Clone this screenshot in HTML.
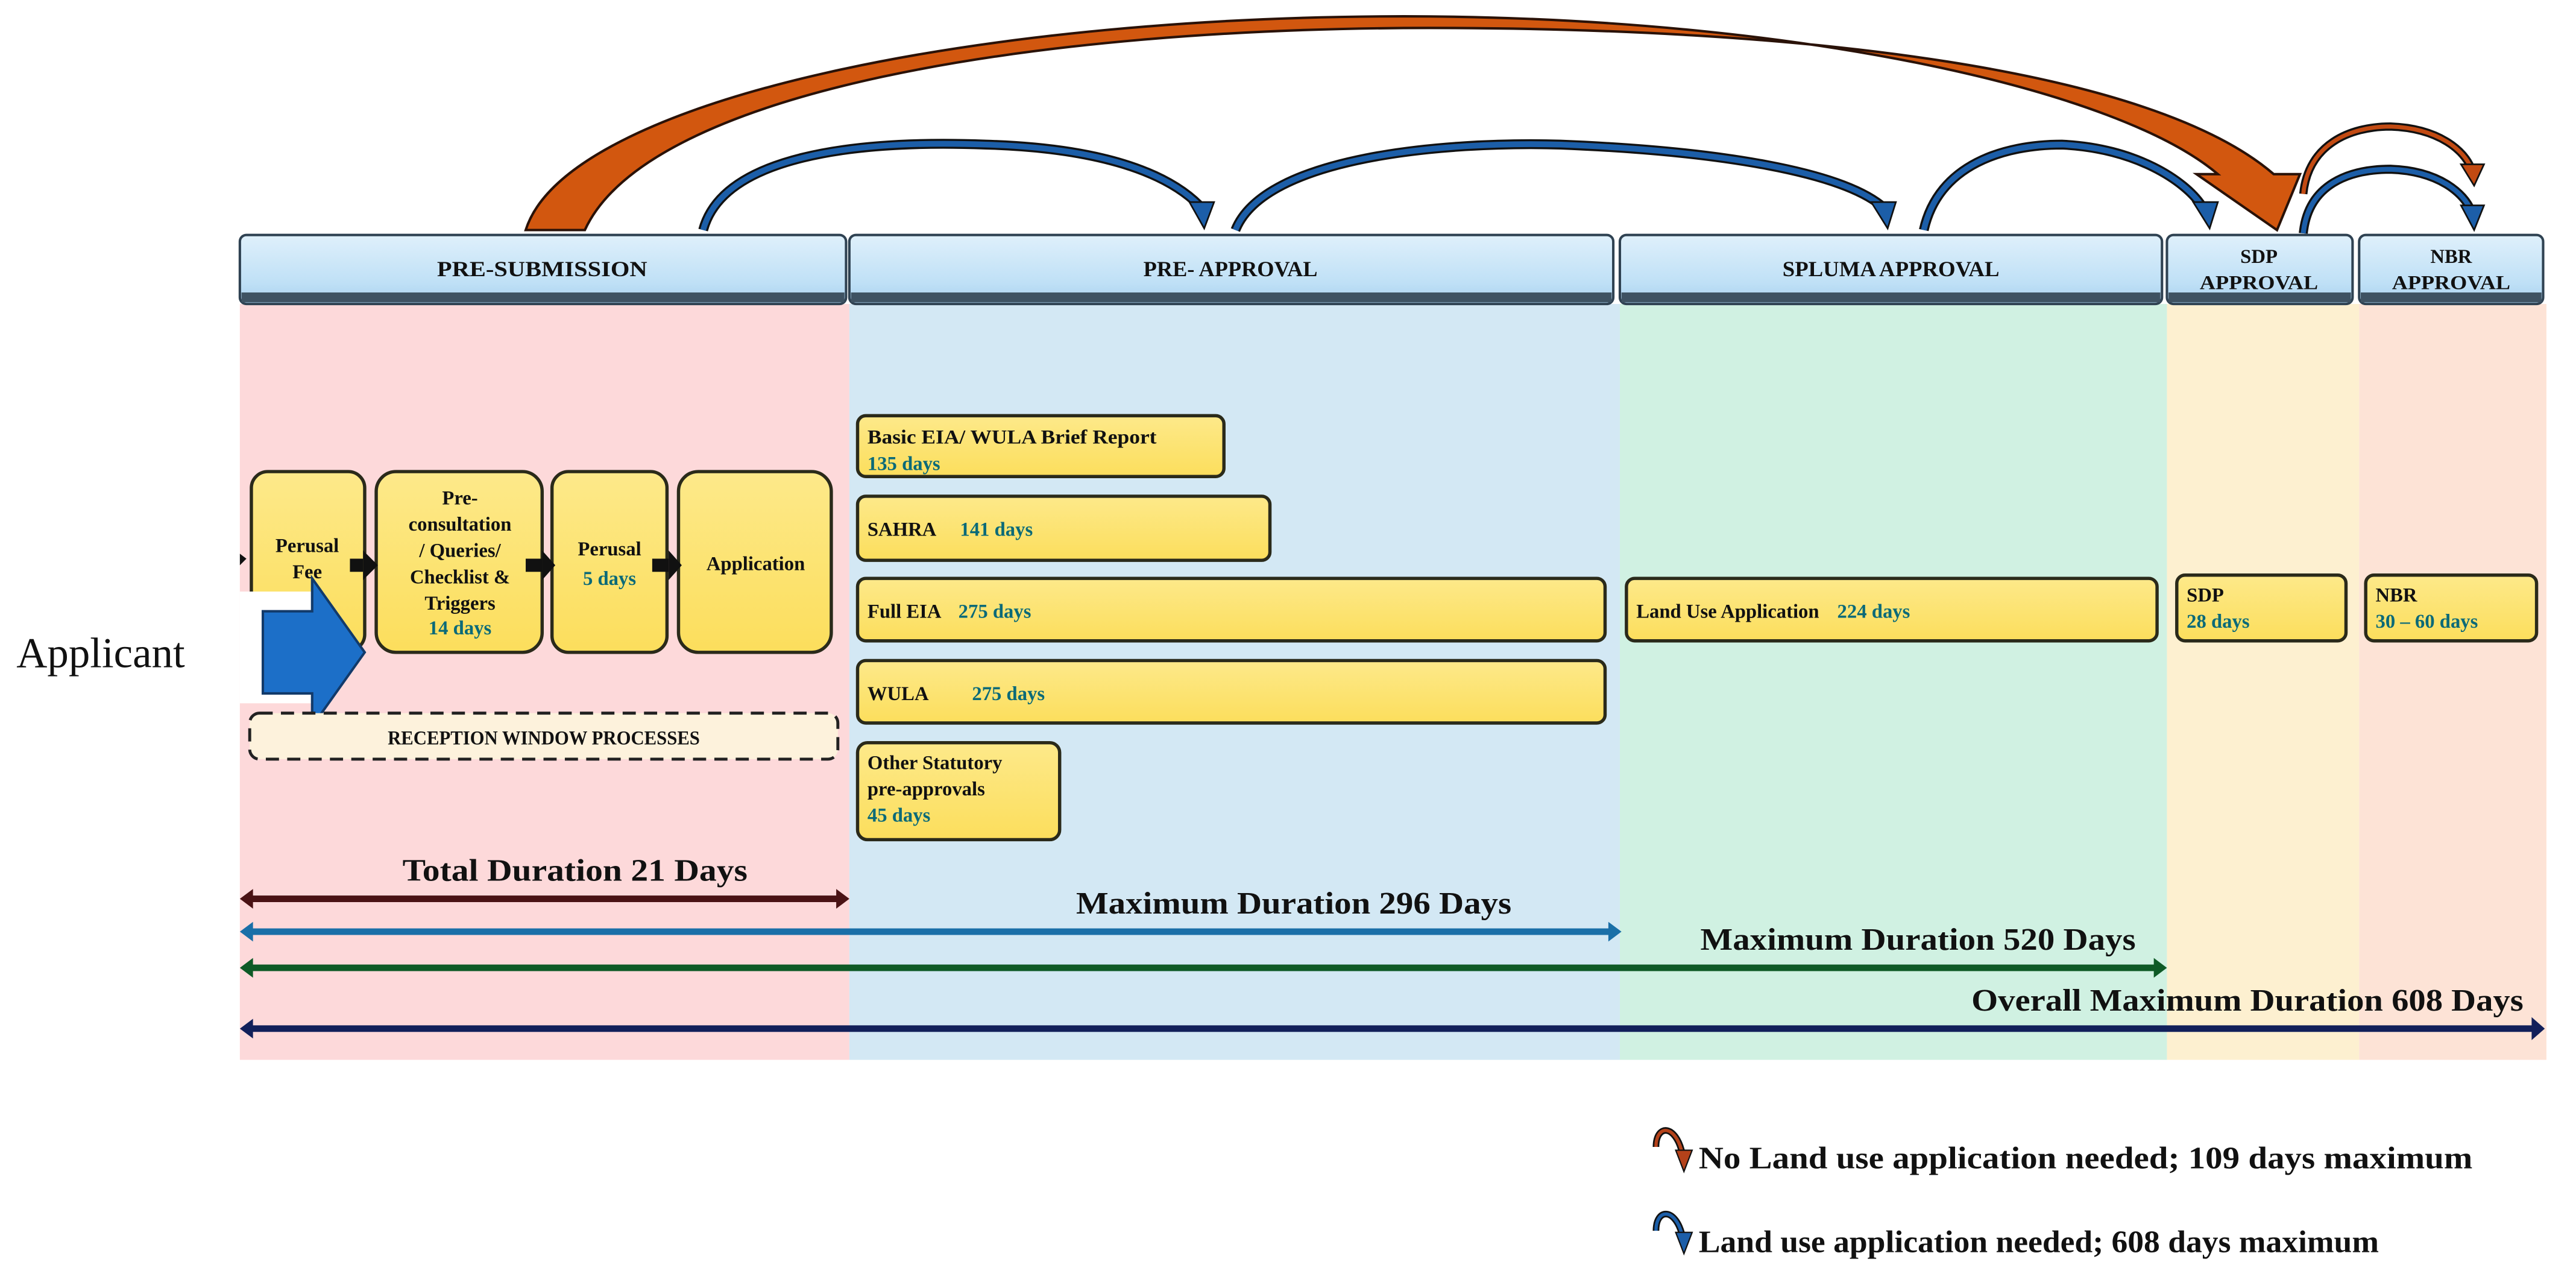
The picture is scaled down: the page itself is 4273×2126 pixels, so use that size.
<!DOCTYPE html>
<html><head><meta charset="utf-8"><style>
html,body{margin:0;padding:0;background:#fff;}
svg{display:block;}
text{font-family:"Liberation Serif",serif;font-weight:bold;}
</style></head><body>
<svg width="4273" height="2126" viewBox="0 0 1568 780.2" preserveAspectRatio="none" xmlns="http://www.w3.org/2000/svg">
<defs>
<linearGradient id="hdr" x1="0" y1="0" x2="0" y2="1">
<stop offset="0" stop-color="#dff0fb"/><stop offset="0.7" stop-color="#bfe0f6"/><stop offset="1" stop-color="#a9d1ee"/></linearGradient>
<linearGradient id="yb" x1="0" y1="0" x2="0" y2="1">
<stop offset="0" stop-color="#fde98a"/><stop offset="1" stop-color="#fcde5c"/></linearGradient>
</defs>
<rect x="146" y="185" width="371" height="460" fill="#fdd9da"/>
<rect x="517" y="185" width="469" height="460" fill="#d3e8f4"/>
<rect x="986" y="185" width="333" height="460" fill="#d0f1e2"/>
<rect x="1319" y="185" width="117" height="460" fill="#fdf0d0"/>
<rect x="1436" y="185" width="114" height="460" fill="#fde3d6"/>

<g stroke="#2f4252" stroke-width="1.5">
<rect x="146" y="143" width="369" height="42" rx="4" fill="url(#hdr)"/>
<rect x="517" y="143" width="465" height="42" rx="4" fill="url(#hdr)"/>
<rect x="986" y="143" width="330" height="42" rx="4" fill="url(#hdr)"/>
<rect x="1319" y="143" width="113" height="42" rx="4" fill="url(#hdr)"/>
<rect x="1436" y="143" width="112" height="42" rx="4" fill="url(#hdr)"/>
</g>
<g fill="#3e5262">
<rect x="147" y="178" width="367" height="6"/>
<rect x="518" y="178" width="463" height="6"/>
<rect x="987" y="178" width="328" height="6"/>
<rect x="1320" y="178" width="111" height="6"/>
<rect x="1437" y="178" width="110" height="6"/>
</g>
<g font-size="13" fill="#111" text-anchor="middle">
<text x="330" y="168" textLength="128" lengthAdjust="spacingAndGlyphs">PRE-SUBMISSION</text>
<text x="749" y="168" textLength="106" lengthAdjust="spacingAndGlyphs">PRE- APPROVAL</text>
<text x="1151" y="168" textLength="132" lengthAdjust="spacingAndGlyphs">SPLUMA APPROVAL</text>
<text x="1375" y="160" font-size="12">SDP</text><text x="1375" y="176" font-size="12" textLength="72" lengthAdjust="spacingAndGlyphs">APPROVAL</text>
<text x="1492" y="160" font-size="12">NBR</text><text x="1492" y="176" font-size="12" textLength="72" lengthAdjust="spacingAndGlyphs">APPROVAL</text>
</g>

<path d="M320,140 C345,60 600,8 870,10 C1100,12 1290,55 1350,106 L1337,106 L1386,140 L1400,106 L1384,106 C1310,42 1100,17 870,17 C630,17 395,55 356,140 Z" fill="#d2570f" stroke="#2a1208" stroke-width="1.5"/>

<g fill="none" stroke-linecap="butt">
<path d="M428,140 C440,95 520,85 600,88 C670,90 710,105 730,125" stroke="#111" stroke-width="6"/>
<path d="M428,140 C440,95 520,85 600,88 C670,90 710,105 730,125" stroke="#1c5ea8" stroke-width="3.5"/>
<path d="M752,140 C770,95 880,86 950,88 C1050,92 1120,105 1145,125" stroke="#111" stroke-width="6"/>
<path d="M752,140 C770,95 880,86 950,88 C1050,92 1120,105 1145,125" stroke="#1c5ea8" stroke-width="3.5"/>
<path d="M1171,140 C1180,100 1220,88 1255,88 C1300,90 1330,110 1340,125" stroke="#111" stroke-width="6"/>
<path d="M1171,140 C1180,100 1220,88 1255,88 C1300,90 1330,110 1340,125" stroke="#1c5ea8" stroke-width="3.5"/>
<path d="M1402,142 C1405,112 1430,103 1455,103 C1485,104 1500,118 1504,128" stroke="#111" stroke-width="5.5"/>
<path d="M1402,142 C1405,112 1430,103 1455,103 C1485,104 1500,118 1504,128" stroke="#1c5ea8" stroke-width="3"/>
<path d="M1402,118 C1405,88 1430,77 1455,77 C1485,78 1500,92 1504,102" stroke="#111" stroke-width="5"/>
<path d="M1402,118 C1405,88 1430,77 1455,77 C1485,78 1500,92 1504,102" stroke="#c24a12" stroke-width="2.5"/>
</g>
<g stroke="#111" stroke-width="1">
<polygon points="724,123 739,123 733,139" fill="#1c5ea8"/>
<polygon points="1139,123 1154,123 1149,139" fill="#1c5ea8"/>
<polygon points="1335,123 1350,123 1345,139" fill="#1c5ea8"/>
<polygon points="1498,125 1512,125 1506,140" fill="#1c5ea8"/>
<polygon points="1498,100 1512,100 1506,113" fill="#c24a12"/>
</g>

<g fill="url(#yb)" stroke="#2a2a1a" stroke-width="2">
<rect x="153" y="287" width="69" height="109" rx="10"/>
<rect x="229" y="287" width="101" height="110" rx="12"/>
<rect x="336" y="287" width="70" height="110" rx="10"/>
<rect x="413" y="287" width="93" height="110" rx="12"/>
</g>
<g fill="#111">
<rect x="213" y="340" width="8" height="8"/><polygon points="221,335 230,344 221,353"/>
<rect x="320" y="340" width="10" height="8"/><polygon points="330,335 338,344 330,353"/>
<rect x="397" y="340" width="10" height="8"/><polygon points="407,335 415,344 407,353"/>
</g>
<g font-size="12" fill="#111" text-anchor="middle">
<text x="187" y="336">Perusal</text>
<text x="187" y="352">Fee</text>
<text x="280" y="307">Pre-</text>
<text x="280" y="323">consultation</text>
<text x="280" y="339">/ Queries/</text>
<text x="280" y="355">Checklist &amp;</text>
<text x="280" y="371">Triggers</text>
<text x="280" y="386" fill="#0b6a78">14 days</text>
<text x="371" y="338">Perusal</text>
<text x="371" y="356" fill="#0b6a78">5 days</text>
<text x="460" y="347">Application</text>
</g>

<rect x="146" y="360" width="44" height="68" fill="#fff"/>
<polygon points="160,372 190,372 190,352 222,397 190,442 190,422 160,422" fill="#1c6fc8" stroke="#123a6a" stroke-width="1.5"/>
<text x="10" y="406" font-size="26" fill="#111" style="font-weight:normal">Applicant</text>
<polygon points="146,337 150,340 146,344" fill="#111"/>

<rect x="152" y="434" width="358" height="28" rx="6" fill="#fdf2dc" stroke="#222" stroke-width="1.8" stroke-dasharray="8,5"/>
<text x="331" y="453" font-size="12" text-anchor="middle" fill="#111" textLength="190" lengthAdjust="spacingAndGlyphs">RECEPTION WINDOW PROCESSES</text>

<g fill="url(#yb)" stroke="#2a2a1a" stroke-width="2">
<rect x="522" y="253" width="223" height="37" rx="5"/>
<rect x="522" y="302" width="251" height="39" rx="5"/>
<rect x="522" y="352" width="455" height="38" rx="5"/>
<rect x="522" y="402" width="455" height="38" rx="5"/>
<rect x="522" y="452" width="123" height="59" rx="6"/>
<rect x="990" y="352" width="323" height="38" rx="5"/>
<rect x="1325" y="350" width="103" height="40" rx="5"/>
<rect x="1440" y="350" width="104" height="40" rx="5"/>
</g>
<g font-size="12" fill="#111">
<text x="528" y="270" textLength="176" lengthAdjust="spacingAndGlyphs">Basic EIA/ WULA Brief Report</text>
<text x="528" y="286" fill="#0b6a78">135 days</text>
<text x="528" y="326">SAHRA <tspan dx="12" fill="#0b6a78">141 days</tspan></text>
<text x="528" y="376">Full EIA <tspan dx="8" fill="#0b6a78">275 days</tspan></text>
<text x="528" y="426">WULA <tspan dx="24" fill="#0b6a78">275 days</tspan></text>
<text x="528" y="468">Other Statutory</text>
<text x="528" y="484">pre-approvals</text>
<text x="528" y="500" fill="#0b6a78">45 days</text>
<text x="996" y="376">Land Use Application <tspan dx="8" fill="#0b6a78">224 days</tspan></text>
<text x="1331" y="366">SDP</text>
<text x="1331" y="382" fill="#0b6a78">28 days</text>
<text x="1446" y="366">NBR</text>
<text x="1446" y="382" fill="#0b6a78">30 – 60 days</text>
</g>

<g font-size="19" fill="#111">
<text x="245" y="536" textLength="210" lengthAdjust="spacingAndGlyphs">Total Duration 21 Days</text>
<text x="655" y="556" textLength="265" lengthAdjust="spacingAndGlyphs">Maximum Duration 296 Days</text>
<text x="1035" y="578" textLength="265" lengthAdjust="spacingAndGlyphs">Maximum Duration 520 Days</text>
<text x="1200" y="615" textLength="336" lengthAdjust="spacingAndGlyphs">Overall Maximum Duration 608 Days</text>
</g>
<g>
<rect x="152" y="545" width="358" height="4" fill="#4a1214"/>
<polygon points="146,547 154,541 154,553" fill="#4a1214"/><polygon points="517,547 509,541 509,553" fill="#4a1214"/>
<rect x="152" y="565" width="828" height="4" fill="#1a6fa8"/>
<polygon points="146,567 154,561 154,573" fill="#1a6fa8"/><polygon points="987,567 979,561 979,573" fill="#1a6fa8"/>
<rect x="152" y="587" width="1160" height="4" fill="#0e5a26"/>
<polygon points="146,589 154,583 154,595" fill="#0e5a26"/><polygon points="1319,589 1311,583 1311,595" fill="#0e5a26"/>
<rect x="152" y="624" width="1390" height="4" fill="#12205a"/>
<polygon points="146,626 154,620 154,632" fill="#12205a"/><polygon points="1549,626 1541,619 1541,633" fill="#12205a"/>
</g>

<g fill="none">
<path d="M1008,698 C1008,684 1020,684 1024,702" stroke="#111" stroke-width="4"/>
<path d="M1008,698 C1008,684 1020,684 1024,702" stroke="#b4421a" stroke-width="2"/>
<path d="M1008,749 C1008,735 1020,735 1024,752" stroke="#111" stroke-width="4"/>
<path d="M1008,749 C1008,735 1020,735 1024,752" stroke="#1c5ea8" stroke-width="2"/>
</g>
<polygon points="1020,700 1030,700 1025,713" fill="#b4421a" stroke="#111" stroke-width="0.8"/>
<polygon points="1020,750 1030,750 1025,763" fill="#1c5ea8" stroke="#111" stroke-width="0.8"/>
<g font-size="19" fill="#111">
<text x="1034" y="711" textLength="471" lengthAdjust="spacingAndGlyphs">No Land use application needed; 109 days maximum</text>
<text x="1034" y="762" textLength="414" lengthAdjust="spacingAndGlyphs">Land use application needed; 608 days maximum</text>
</g>
</svg>
</body></html>
